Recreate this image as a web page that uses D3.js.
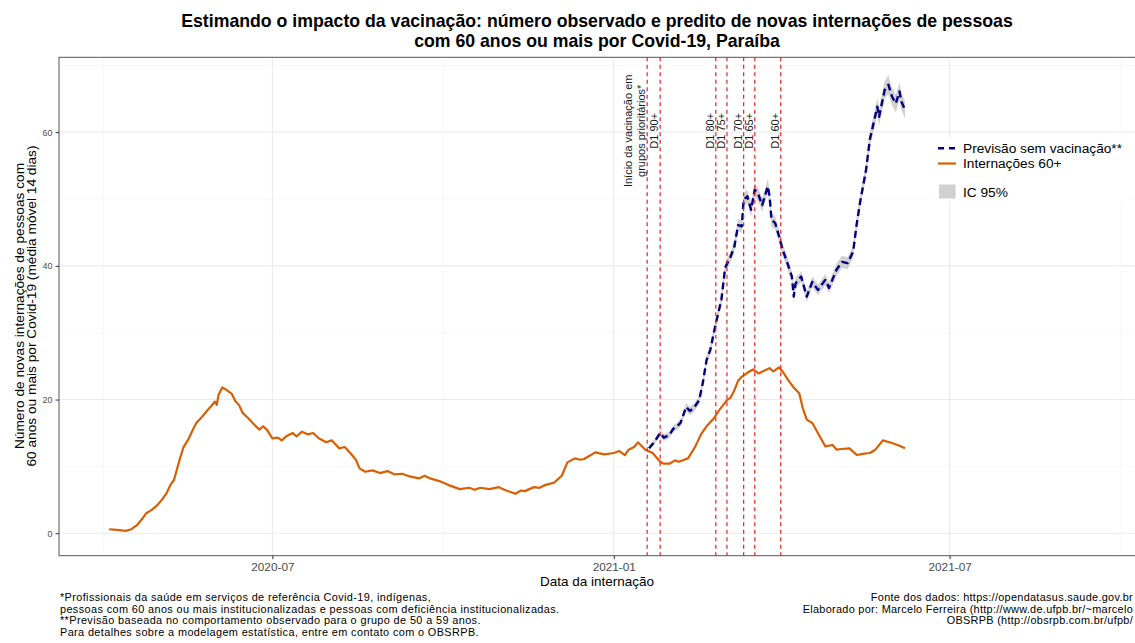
<!DOCTYPE html>
<html>
<head>
<meta charset="utf-8">
<script src="https://cdn.jsdelivr.net/npm/d3@7"></script>
<style>
  html, body { margin: 0; padding: 0; background: #fff; }
  svg { display: block; font-family: "Liberation Sans", Arial, Helvetica, sans-serif; }
</style>
</head>
<body>
<svg id="chart" width="1135" height="643"></svg>
<script>
// ---------- DATA ----------
const obsDates = ["2020-04-04","2020-04-08","2020-04-13","2020-04-16","2020-04-19","2020-04-22","2020-04-24","2020-04-27","2020-04-30","2020-05-03","2020-05-05","2020-05-07","2020-05-09","2020-05-12","2020-05-14","2020-05-17","2020-05-19","2020-05-21","2020-05-24","2020-05-27","2020-05-29","2020-05-31","2020-06-01","2020-06-02","2020-06-04","2020-06-06","2020-06-09","2020-06-11","2020-06-13","2020-06-15","2020-06-18","2020-06-21","2020-06-24","2020-06-26","2020-06-28","2020-07-01","2020-07-04","2020-07-06","2020-07-09","2020-07-12","2020-07-14","2020-07-17","2020-07-20","2020-07-23","2020-07-26","2020-07-30","2020-08-02","2020-08-06","2020-08-09","2020-08-12","2020-08-15","2020-08-17","2020-08-20","2020-08-24","2020-08-28","2020-09-01","2020-09-05","2020-09-09","2020-09-13","2020-09-18","2020-09-21","2020-09-24","2020-09-29","2020-10-04","2020-10-07","2020-10-10","2020-10-15","2020-10-18","2020-10-21","2020-10-26","2020-10-31","2020-11-03","2020-11-06","2020-11-09","2020-11-12","2020-11-14","2020-11-19","2020-11-22","2020-11-25","2020-11-30","2020-12-04","2020-12-07","2020-12-11","2020-12-14","2020-12-16","2020-12-19","2020-12-22","2020-12-27","2021-01-01","2021-01-04","2021-01-07","2021-01-09","2021-01-12","2021-01-14","2021-01-18","2021-01-22","2021-01-26","2021-01-28","2021-01-31","2021-02-03","2021-02-05","2021-02-08","2021-02-10","2021-02-14","2021-02-17","2021-02-20","2021-02-24","2021-02-27","2021-03-03","2021-03-05","2021-03-07","2021-03-09","2021-03-11","2021-03-14","2021-03-17","2021-03-20","2021-03-23","2021-03-26","2021-03-28","2021-03-31","2021-04-02","2021-04-05","2021-04-08","2021-04-11","2021-04-13","2021-04-15","2021-04-18","2021-04-21","2021-04-25","2021-04-29","2021-05-01","2021-05-04","2021-05-08","2021-05-12","2021-05-16","2021-05-19","2021-05-22","2021-05-26","2021-05-31","2021-06-04","2021-06-07"];
const obsValues = [0.6,0.5,0.35,0.6,1.2,2.2,3.0,3.5,4.2,5.2,6.0,7.2,8.0,11.0,12.8,14.2,15.4,16.5,17.4,18.4,19.0,19.7,19.2,20.7,21.8,21.5,20.9,19.8,19.2,18.0,17.2,16.3,15.5,16.0,15.5,14.2,14.3,13.9,14.6,15.0,14.5,15.2,14.8,15.0,14.2,13.6,13.9,12.7,12.9,12.0,11.0,9.7,9.2,9.4,9.0,9.3,8.8,8.9,8.5,8.2,8.6,8.2,7.8,7.2,6.9,6.6,6.8,6.5,6.8,6.6,6.9,6.5,6.2,5.9,6.4,6.3,6.9,6.8,7.2,7.6,8.6,10.6,11.2,11.0,11.1,11.6,12.1,11.8,12.0,12.3,11.7,12.5,12.9,13.6,12.5,12.0,10.7,10.4,10.4,10.9,10.7,11.0,11.2,13.0,14.8,16.0,17.2,18.5,19.9,20.3,21.4,22.8,23.4,24.0,24.5,23.9,24.3,24.7,24.2,24.8,24.2,22.9,21.8,20.9,18.6,17.0,16.5,15.0,13.0,13.2,12.5,12.6,12.7,11.7,11.9,12.0,12.5,13.9,13.5,13.1,12.7];

const predDates = ["2021-01-20","2021-01-23","2021-01-26","2021-01-28","2021-01-31","2021-02-02","2021-02-04","2021-02-06","2021-02-09","2021-02-11","2021-02-13","2021-02-16","2021-02-18","2021-02-20","2021-02-22","2021-02-25","2021-02-28","2021-03-02","2021-03-05","2021-03-07","2021-03-09","2021-03-11","2021-03-12","2021-03-14","2021-03-16","2021-03-18","2021-03-20","2021-03-22","2021-03-25","2021-03-26","2021-03-27","2021-03-29","2021-03-31","2021-04-02","2021-04-04","2021-04-07","2021-04-08","2021-04-09","2021-04-12","2021-04-15","2021-04-18","2021-04-21","2021-04-25","2021-04-27","2021-05-01","2021-05-04","2021-05-07","2021-05-10","2021-05-12","2021-05-14","2021-05-17","2021-05-19","2021-05-21","2021-05-23","2021-05-24","2021-05-27","2021-05-29","2021-05-31","2021-06-02","2021-06-04","2021-06-05","2021-06-07"];
const predValues = [12.7,13.7,15.0,14.3,14.7,15.6,16.0,16.5,18.9,18.3,18.7,19.9,22.5,25.9,27.4,31.4,34.9,39.7,41.4,42.9,46.1,45.9,49.9,50.4,48.4,51.4,50.6,49.1,51.9,50.4,46.9,46.4,44.5,42.4,40.9,38.4,35.4,37.4,38.4,35.4,37.6,36.4,37.9,36.7,39.4,40.6,40.4,42.1,46.4,49.9,54.4,58.9,61.3,63.8,62.3,66.3,67.1,65.3,64.3,66.1,64.6,63.3];
const predLower = [12.3,13.3,14.5,13.8,14.2,15.1,15.5,16.0,18.3,17.7,18.1,19.3,21.9,25.2,26.7,30.7,34.1,38.9,40.6,42.0,45.2,45.0,48.9,49.4,47.4,50.4,49.6,48.1,50.8,49.4,45.9,45.4,43.6,41.5,40.0,37.6,34.6,36.6,37.6,34.6,36.8,35.6,37.1,35.9,38.5,39.7,39.5,41.2,45.4,48.9,53.3,57.7,60.1,62.5,61.0,65.0,65.7,64.0,63.0,64.8,63.3,62.0];
const predUpper = [13.1,14.1,15.5,14.8,15.2,16.1,16.5,17.0,19.5,18.9,19.3,20.5,23.1,26.6,28.1,32.1,35.7,40.5,42.2,43.8,47.0,46.8,50.9,51.4,49.4,52.4,51.6,50.1,53.0,51.4,47.9,47.4,45.4,43.3,41.8,39.2,36.2,38.2,39.2,36.2,38.4,37.2,38.7,37.5,40.3,41.5,41.3,43.0,47.4,50.9,55.5,60.1,62.5,65.1,63.6,67.6,68.5,66.6,65.6,67.4,65.9,64.6];

const vaccDates = ["2021-01-19","2021-01-26","2021-02-25","2021-03-03","2021-03-12","2021-03-18","2021-04-01"];
const vaccLabels = [["Início da vacinação em","grupos prioritários*"],["D1 90+"],["D1 80+"],["D1 75+"],["D1 70+"],["D1 65+"],["D1 60+"]];

const yTicks = [0, 20, 40, 60];
const yMinorTicks = [10, 30, 50, 70];
const xTickDates = ["2020-07-01","2021-01-01","2021-07-01"];
const xTickLabels = ["2020-07","2021-01","2021-07"];
const xMinorDates = ["2020-04-01","2020-10-01","2021-04-01","2021-10-01"];

const legendLabels = ["Previsão sem vacinação**","Internações 60+","IC 95%"];

const titleLines = ["Estimando o impacto da vacinação: número observado e predito de novas internações de pessoas","com 60 anos ou mais por Covid-19, Paraíba"];
const yTitleLines = ["Número de novas internações de pessoas com","60 anos ou mais por Covid-19 (média móvel 14 dias)"];
const xTitle = "Data da internação";
const footLeft = ["*Profissionais da saúde em serviços de referência Covid-19, indígenas,","pessoas com 60 anos ou mais institucionalizadas e pessoas com deficiência institucionalizadas.","**Previsão baseada no comportamento observado para o grupo de 50 a 59 anos.","Para detalhes sobre a modelagem estatística, entre em contato com o OBSRPB."];
const footRight = ["Fonte dos dados: https://opendatasus.saude.gov.br","Elaborado por: Marcelo Ferreira (http://www.de.ufpb.br/~marcelo","OBSRPB (http://obsrpb.com.br/ufpb/"];

// ---------- LAYOUT ----------
const parse = d3.timeParse("%Y-%m-%d");
const P = { left: 59, right: 1137, top: 57.3, bottom: 555.7 };
const COL_OBS = "#d95f02", COL_PRED = "#000080", COL_CI = "#c9c9c9", COL_V = "#ee1c25";

const svg = d3.select("#chart");
svg.append("rect").attr("width", 1135).attr("height", 643).attr("fill", "#fff");

const x = d3.scaleTime().domain([parse("2020-03-08"), parse("2021-10-10")]).range([P.left, P.right]);
const y = d3.scaleLinear().domain([-3.36, 71.2]).range([P.bottom, P.top]);

const obs = obsDates.map((d, i) => ({ date: parse(d), v: obsValues[i] }));
const pred = predDates.map((d, i) => ({ date: parse(d), v: predValues[i], lo: predLower[i], hi: predUpper[i] }));

const plot = svg.append("g");
plot.append("defs").append("clipPath").attr("id", "clip")
  .append("rect").attr("x", P.left).attr("y", P.top).attr("width", P.right - P.left).attr("height", P.bottom - P.top);

// grid
const grid = plot.append("g");
grid.selectAll(".ymin").data(yMinorTicks).join("line")
  .attr("x1", P.left).attr("x2", P.right).attr("y1", d => y(d)).attr("y2", d => y(d))
  .attr("stroke", "#f2f2f2").attr("stroke-width", 0.6);
grid.selectAll(".xmin").data(xMinorDates).join("line")
  .attr("x1", d => x(parse(d))).attr("x2", d => x(parse(d))).attr("y1", P.top).attr("y2", P.bottom)
  .attr("stroke", "#f2f2f2").attr("stroke-width", 0.6);
grid.selectAll(".ymaj").data(yTicks).join("line")
  .attr("x1", P.left).attr("x2", P.right).attr("y1", d => y(d)).attr("y2", d => y(d))
  .attr("stroke", "#ebebeb").attr("stroke-width", 1.1);
grid.selectAll(".xmaj").data(xTickDates).join("line")
  .attr("x1", d => x(parse(d))).attr("x2", d => x(parse(d))).attr("y1", P.top).attr("y2", P.bottom)
  .attr("stroke", "#ebebeb").attr("stroke-width", 1.1);

// ribbon
const data = plot.append("g").attr("clip-path", "url(#clip)");
data.append("path").datum(pred)
  .attr("d", d3.area().x(d => x(d.date)).y0(d => y(d.lo)).y1(d => y(d.hi)))
  .attr("fill", COL_CI).attr("opacity", 0.85);

// observed line
data.append("path").datum(obs)
  .attr("d", d3.line().x(d => x(d.date)).y(d => y(d.v)))
  .attr("fill", "none").attr("stroke", COL_OBS).attr("stroke-width", 2.2).attr("stroke-linejoin", "round");

// predicted dashed line
data.append("path").datum(pred)
  .attr("d", d3.line().x(d => x(d.date)).y(d => y(d.v)))
  .attr("fill", "none").attr("stroke", COL_PRED).attr("stroke-width", 2.4)
  .attr("stroke-dasharray", "7,4").attr("stroke-linejoin", "round");

// vaccination vertical lines
const vg = plot.append("g");
vg.selectAll("line").data(vaccDates).join("line")
  .attr("x1", d => x(parse(d))).attr("x2", d => x(parse(d)))
  .attr("y1", P.top).attr("y2", P.bottom)
  .attr("stroke", COL_V).attr("stroke-width", 1.2).attr("stroke-dasharray", "4,3.5");

vaccDates.forEach((d, i) => {
  const lx = x(parse(d));
  const lines = vaccLabels[i];
  lines.forEach((t, j) => {
    const off = (lines.length - 1 - j) * 13;
    const bx = lx - 1.8 - off;
    vg.append("text")
      .attr("transform", `translate(${bx},${y(60.2)}) rotate(-90)`)
      .attr("text-anchor", "middle")
      .attr("font-size", 11).attr("fill", "#1a1a1a")
      .text(t);
  });
});

// panel border
plot.append("rect").attr("x", P.left).attr("y", P.top)
  .attr("width", P.right - P.left).attr("height", P.bottom - P.top)
  .attr("fill", "none").attr("stroke", "#555").attr("stroke-width", 1);

// axes
const yAxis = d3.axisLeft(y).tickValues(yTicks).tickSize(3.5).tickPadding(3);
const yg = svg.append("g").attr("transform", `translate(${P.left},0)`).call(yAxis);
yg.select(".domain").remove();
yg.selectAll(".tick line").attr("stroke", "#333");
yg.selectAll(".tick text").attr("font-size", 9).attr("fill", "#4d4d4d").attr("font-family", "Liberation Sans, Arial, sans-serif");

const xAxis = d3.axisBottom(x).tickValues(xTickDates.map(parse))
  .tickFormat((d, i) => xTickLabels[i]).tickSize(3.5).tickPadding(3);
const xg = svg.append("g").attr("transform", `translate(0,${P.bottom})`).call(xAxis);
xg.select(".domain").remove();
xg.selectAll(".tick line").attr("stroke", "#333");
xg.selectAll(".tick text").attr("font-size", 11.8).attr("fill", "#4d4d4d").attr("font-family", "Liberation Sans, Arial, sans-serif");

// axis titles
svg.append("text").attr("x", 597).attr("y", 585.5).attr("text-anchor", "middle")
  .attr("font-size", 13.5).attr("fill", "#000").text(xTitle);
yTitleLines.forEach((t, j) => {
  svg.append("text")
    .attr("transform", `translate(${23.5 + j * 12.5},306) rotate(-90)`)
    .attr("text-anchor", "middle").attr("font-size", 13.7).attr("fill", "#000").text(t);
});

// title
titleLines.forEach((t, j) => {
  svg.append("text").attr("x", 597).attr("y", 27 + j * 19.5)
    .attr("text-anchor", "middle").attr("font-size", 17.7).attr("font-weight", "bold")
    .attr("fill", "#000").text(t);
});

// legend
const lg = svg.append("g");
lg.append("rect").attr("x", 930).attr("y", 138).attr("width", 200).attr("height", 64).attr("fill", "#fff");
lg.append("line").attr("x1", 938).attr("x2", 956).attr("y1", 148.3).attr("y2", 148.3)
  .attr("stroke", COL_PRED).attr("stroke-width", 2.4).attr("stroke-dasharray", "6,5");
lg.append("line").attr("x1", 938).attr("x2", 956).attr("y1", 163.5).attr("y2", 163.5)
  .attr("stroke", COL_OBS).attr("stroke-width", 2.2);
lg.append("rect").attr("x", 939).attr("y", 184.5).attr("width", 16.5).attr("height", 14).attr("fill", "#d0d0d0");
[148.3, 163.5, 191.7].forEach((cy, i) => {
  lg.append("text").attr("x", 963).attr("y", cy + 4.8)
    .attr("font-size", 13.7).attr("fill", "#000").text(legendLabels[i]);
});

// footnotes
footLeft.forEach((t, j) => {
  svg.append("text").attr("x", 60).attr("y", 600.8 + j * 11.8)
    .attr("font-size", 10.9).attr("letter-spacing", 0.38).attr("fill", "#000").text(t);
});
footRight.forEach((t, j) => {
  svg.append("text").attr("x", 1133).attr("y", 600.8 + j * 11.8)
    .attr("text-anchor", "end").attr("font-size", 10.9).attr("letter-spacing", 0.3).attr("fill", "#000").text(t);
});
</script>
</body>
</html>
